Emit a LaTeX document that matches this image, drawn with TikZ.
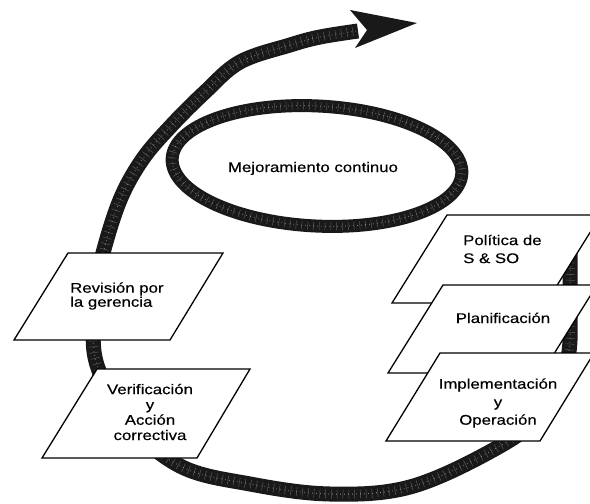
\documentclass[tikz,border=0pt]{standalone}
\usepackage{fontspec}
\newfontfamily\lblfont{Liberation Sans}[FakeStretch=1.2,FakeBold=0.35]
\begin{document}
\begin{tikzpicture}[x=1pt,y=-1pt,
  boxst/.style={draw=black, line width=1.3pt, fill=white, line join=miter},
  lbl/.style={font=\lblfont\fontsize{14}{15.3}\selectfont, inner sep=0pt, text=black},
  bandbase/.style={draw=black!90, line width=#1, line cap=butt},
  bandmid/.style={draw=white, line width=#1, dash pattern=on 0.5pt off 5.3pt, opacity=.28},
  bandspeck/.style={draw=white, line width=0.9pt, dash pattern=on 0.6pt off 3.4pt, opacity=.5}
]
\useasboundingbox (0,0) rectangle (590,504);
\fill[white] (0,0) rectangle (590,504);

% ring "Mejoramiento continuo"
\begin{scope}[rotate around={-3:(317,166)}]
  \draw[bandbase=13pt] (317,166) ellipse [x radius=145, y radius=60];
  \draw[bandmid=8pt] (317,166) ellipse [x radius=145, y radius=60];
  \draw[bandspeck] (317,166) ellipse [x radius=145, y radius=60];
\end{scope}

% spiral band
\draw[bandbase=15pt] plot[smooth, tension=0.6] coordinates {(570,222) (570,300) (567,362) (540,415) (493,450) (410,487) (330,494) (250,484) (180,466) (125,420) (98,368) (93,330) (96,290) (103,253) (120,200) (142,160) (170,127) (205,92) (240,62) (290,45) (320,37) (358,31)};
\draw[bandmid=9pt] plot[smooth, tension=0.6] coordinates {(570,222) (570,300) (567,362) (540,415) (493,450) (410,487) (330,494) (250,484) (180,466) (125,420) (98,368) (93,330) (96,290) (103,253) (120,200) (142,160) (170,127) (205,92) (240,62) (290,45) (320,37) (358,31)};
\draw[bandspeck] plot[smooth, tension=0.6] coordinates {(570,222) (570,300) (567,362) (540,415) (493,450) (410,487) (330,494) (250,484) (180,466) (125,420) (98,368) (93,330) (96,290) (103,253) (120,200) (142,160) (170,127) (205,92) (240,62) (290,45) (320,37) (358,31)};
% arrow head
\fill[black!90] (350,10) coordinate (hdA) -- (417,23) coordinate (tip) -- (355,48) coordinate (hdB) -- (367,30) -- cycle;

\node[lbl, anchor=base] (mej) at (313,172) {Mejoramiento continuo};

% left boxes
\draw[boxst] (68,253) -- (223,253) -- (170,340) -- (14,340) -- cycle;
\node[lbl, anchor=west, align=left, font=\lblfont\fontsize{14}{12.5}\selectfont] (rev) at (70,296) {Revisión por\\la gerencia};

\draw[boxst] (97,369) -- (250,369) -- (197,458) -- (42,458) -- cycle;
\node[lbl, align=center] (ver) at (150,412) {Verificación\\y\\Acción\\correctiva};

% right boxes
\draw[boxst] (447,215) -- (601,215) -- (546,303) -- (392,303) -- cycle;
\node[lbl, anchor=west, align=left, font=\lblfont\fontsize{14}{18}\selectfont] (pol) at (463,249) {Política de\\S \& SO};

\draw[boxst] (443,285) -- (597,285) -- (542,373) -- (388,373) -- cycle;
\node[lbl, anchor=base] (pla) at (503,323) {Planificación};

\draw[boxst] (440,353) -- (594,353) -- (540,441) -- (386,441) -- cycle;
\node[lbl, align=center, font=\lblfont\fontsize{14}{18}\selectfont] (imp) at (498,403) {Implementación\\y\\Operación};
\end{tikzpicture}
\end{document}
